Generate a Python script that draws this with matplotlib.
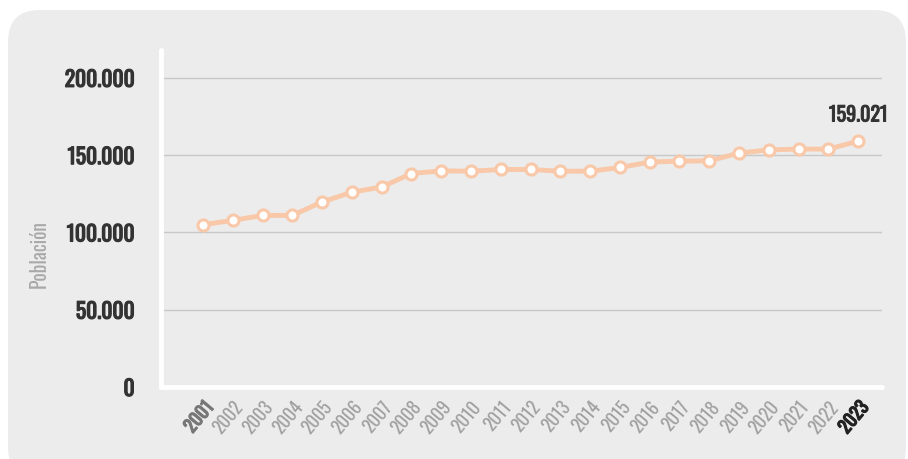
import matplotlib
matplotlib.use("Agg")
import matplotlib.pyplot as plt
from matplotlib.patches import FancyBboxPatch
from matplotlib import font_manager
import matplotlib.patheffects as pe

years = list(range(2001, 2024))
population = [105000, 107800, 111000, 111000, 119700, 126000, 129400, 138100, 139800,
              139600, 140700, 140700, 139600, 139600, 142000, 145500, 146100, 146300,
              151300, 153400, 153900, 153900, 159021]
yticks = [0, 50000, 100000, 150000, 200000]
ytick_labels = ["0", "50.000", "100.000", "150.000", "200.000"]
last_label = "159.021"
ylabel = "Población"

names = {f.name for f in font_manager.fontManager.ttflist}
fam = "DejaVu Sans"
for cand in ["Oswald", "Barlow Condensed", "Roboto Condensed", "Archivo Narrow", "Asap Condensed"]:
    if cand in names:
        fam = cand
        break
plt.rcParams['font.family'] = [fam, 'DejaVu Sans']

def boldfx(color, lw=0.8):
    return [pe.withStroke(linewidth=lw, foreground=color)]

W, H = 908, 459
fig = plt.figure(figsize=(W/100, H/100), dpi=100, facecolor="white")
bg = FancyBboxPatch((8/W, -20/H), (898)/W, (469)/H, boxstyle="round,pad=0,rounding_size=0.035",
                    transform=fig.transFigure, facecolor="#ececec", edgecolor="none", zorder=-10,
                    mutation_aspect=W/H)
fig.patches.append(bg)

ax = fig.add_axes([161/W, (H-387)/H, (882-161)/W, (387-50)/H])
ax.set_zorder(1)
ax.set_facecolor("#ececec")
ax.set_xlim(1999.59, 2023.8)
ax.set_ylim(0, 218000)

ax.set_yticks(yticks)
ax.set_yticklabels(ytick_labels, fontsize=15.5, color="#333333")
for t in ax.get_yticklabels():
    t.set_path_effects(boldfx("#333333", 0.9))
ax.yaxis.grid(True, color="#c8c8c8", linewidth=1)
ax.set_axisbelow(True)
ax.tick_params(axis="y", length=0, pad=19)
ax.tick_params(axis="x", length=0, pad=8)

ax.set_xticks(years)
ax.set_xticklabels([str(y) for y in years], rotation=50, fontsize=13, color="#a0a0a0",
                   ha="right", va="top", rotation_mode="anchor")
labels = ax.get_xticklabels()
labels[0].set_color("#777777")
labels[0].set_path_effects(boldfx("#777777", 0.9))
labels[-1].set_color("#222222")
labels[-1].set_path_effects(boldfx("#222222", 0.9))

for s in ["top", "right"]:
    ax.spines[s].set_visible(False)
for s in ["left", "bottom"]:
    ax.spines[s].set_color("white")
    ax.spines[s].set_linewidth(3.5)
    ax.spines[s].set_capstyle("round")

ax.plot(years, population, color="#f8c8a8", linewidth=3.5, marker="o", markersize=8,
        markerfacecolor="white", markeredgecolor="#f8c8a8", markeredgewidth=2.2, zorder=3,
        clip_on=False)
ann = ax.annotate(last_label, (years[-1], population[-1]), xytext=(0, 12), textcoords="offset points",
                  ha="center", va="bottom", fontsize=14.5, color="#333333")
ann.set_path_effects(boldfx("#333333", 0.7))

ax.set_ylabel(ylabel, fontsize=14, color="#a8a8a8")
ax.yaxis.set_label_coords((49-161)/721, 0.395)

fig.savefig("out.png", dpi=100, facecolor="white")
